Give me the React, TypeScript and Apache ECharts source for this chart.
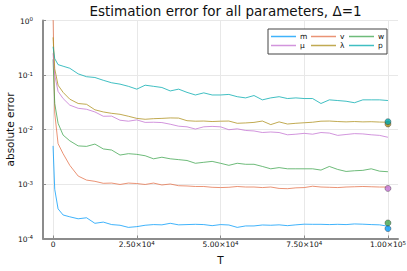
import React, { useEffect, useRef } from "react";
import * as echarts from "echarts";

const T = [0, 500, 1500, 3000, 5000, 7500, 10000, 12500, 15000, 17500, 20000, 22500, 25000, 27500, 30000, 32500, 35000, 37500, 40000, 42500, 45000, 47500, 50000, 52500, 55000, 57500, 60000, 62500, 65000, 67500, 70000, 72500, 75000, 77500, 80000, 82500, 85000, 87500, 90000, 92500, 95000, 97500, 100000];

const errM = [0.005, 0.0008, 0.00035, 0.00027, 0.00025, 0.00023, 0.00024, 0.00019, 0.0002, 0.00018, 0.000175, 0.00016, 0.000165, 0.000175, 0.00018, 0.000178, 0.00019, 0.000178, 0.00018, 0.000182, 0.00018, 0.000172, 0.00018, 0.000177, 0.00016, 0.00017, 0.00017, 0.000177, 0.000175, 0.000178, 0.000172, 0.000178, 0.000183, 0.000182, 0.000182, 0.00018, 0.000182, 0.00018, 0.000185, 0.000183, 0.00018, 0.000178, 0.000168];
const errV = [1.3, 0.02, 0.0055, 0.0036, 0.0022, 0.0014, 0.00118, 0.00112, 0.00103, 0.00104, 0.00098, 0.00104, 0.00102, 0.00098, 0.00104, 0.00096, 0.001, 0.00093, 0.00092, 0.0009, 0.0009, 0.00087, 0.00086, 0.00087, 0.0009, 0.00088, 0.00088, 0.00086, 0.00088, 0.00083, 0.00082, 0.00085, 0.00086, 0.00091, 0.00088, 0.00087, 0.00086, 0.00088, 0.00089, 0.0009, 0.00089, 0.00088, 0.00088];
const errW = [0.194, 0.03, 0.013, 0.0079, 0.0062, 0.005, 0.0049, 0.0054, 0.0044, 0.0042, 0.0034, 0.0036, 0.0035, 0.0033, 0.0029, 0.0031, 0.0029, 0.0028, 0.0027, 0.0024, 0.0025, 0.0026, 0.0024, 0.0022, 0.0024, 0.0023, 0.0023, 0.0021, 0.0019, 0.002, 0.0019, 0.0019, 0.0019, 0.0019, 0.0018, 0.0021, 0.00185, 0.0017, 0.00175, 0.00178, 0.0019, 0.00172, 0.00168];
const errMu = [0.25, 0.1, 0.05, 0.037, 0.028, 0.0245, 0.0235, 0.021, 0.0175, 0.0176, 0.0148, 0.0142, 0.015, 0.0135, 0.0136, 0.0134, 0.0125, 0.0115, 0.0112, 0.0102, 0.0112, 0.0114, 0.0112, 0.0099, 0.0103, 0.0096, 0.0094, 0.0088, 0.009, 0.0088, 0.008, 0.0082, 0.0085, 0.0082, 0.0088, 0.0086, 0.0078, 0.0081, 0.0084, 0.0083, 0.008, 0.0078, 0.0072];
const errLambda = [0.49, 0.13, 0.065, 0.048, 0.036, 0.03, 0.029, 0.023, 0.021, 0.0198, 0.019, 0.0175, 0.016, 0.0154, 0.0158, 0.016, 0.0163, 0.0162, 0.0145, 0.0142, 0.0143, 0.014, 0.0142, 0.0143, 0.013, 0.0132, 0.0135, 0.0143, 0.0123, 0.0138, 0.0126, 0.013, 0.0133, 0.0136, 0.0142, 0.0143, 0.014, 0.0138, 0.014, 0.0138, 0.0139, 0.0137, 0.0136];
const errP = [0.33, 0.2, 0.155, 0.145, 0.133, 0.105, 0.093, 0.09, 0.08, 0.072, 0.068, 0.062, 0.055, 0.065, 0.062, 0.059, 0.051, 0.055, 0.048, 0.043, 0.047, 0.043, 0.043, 0.044, 0.04, 0.038, 0.042, 0.035, 0.038, 0.04, 0.037, 0.038, 0.037, 0.037, 0.03, 0.035, 0.034, 0.033, 0.031, 0.035, 0.035, 0.035, 0.034];

const names = ["m", "v", "w", "μ", "λ", "p"];
const lineColors = [
  "rgba(0,154,250,0.75)",
  "rgba(227,111,71,0.75)",
  "rgba(62,164,78,0.75)",
  "rgba(195,113,210,0.75)",
  "rgba(172,142,24,0.75)",
  "rgba(0,170,174,0.75)",
];

// final-point markers
const markerT = [100000, 100000, 100000, 100000, 100000];
const markerValues = [0.0126, 0.0139, 0.00083, 0.000152, 0.000193];
const markerColors = ["#AC8E18", "#00AAAE", "#C371D2", "#009AFA", "#3EA44E"];

const xTicks = [0, 25000, 50000, 75000, 100000];

const FONT = "DejaVu Sans";
const LEGEND_ICON = "path://M0,0L0.01,0L0,0.01ZM0,3.75H25V5.25H0ZM25,9L24.99,9L25,8.99Z";

export default function App() {
  const ref = useRef<HTMLDivElement>(null);
  useEffect(() => {
    if (!ref.current) return;
    const chart = echarts.init(ref.current, null, { renderer: "svg" });
    const all = [errM, errV, errW, errMu, errLambda, errP];
    const lineSeries = all.map((vals, i) => ({
      name: names[i],
      type: "line",
      data: T.map((t, j) => [t, vals[j]]),
      showSymbol: false,
      symbol: "none",
      color: lineColors[i],
      lineStyle: { width: 1, color: lineColors[i] },
      z: 2,
    }));
    const markerSeries = markerValues.map((v, i) => ({
      name: "marker" + i,
      type: "scatter",
      data: [[markerT[i], v]],
      symbolSize: 6,
      itemStyle: { color: markerColors[i], borderColor: "#333", borderWidth: 0.5 },
      z: 3,
    }));
    const supRich = {
      b: { fontFamily: FONT, fontSize: 7.5, color: "#111", lineHeight: 9, padding: [3, 0, 0, 0], verticalAlign: "bottom" },
      s: { fontFamily: FONT, fontSize: 5.5, color: "#111", lineHeight: 7, verticalAlign: "top" },
    };
    const legendCommon = {
      orient: "vertical",
      align: "left",
      top: 32,
      itemWidth: 25,
      itemHeight: 9,
      itemGap: 0,
      icon: LEGEND_ICON,
      padding: 0,
      textStyle: { fontFamily: FONT, fontSize: 7.5, color: "#111", lineHeight: 9, padding: [0, 0, 0, -1] },
      selectedMode: false,
      z: 5,
    };
    chart.setOption({
      animation: false,
      backgroundColor: "#fff",
      title: {
        text: "Estimation error for all parameters, Δ=1",
        left: 220.5,
        textAlign: "center",
        top: -1,
        textStyle: { fontFamily: FONT, fontSize: 13.5, fontWeight: "normal", color: "#111" },
      },
      grid: { left: 43, right: 9, top: 20.5, bottom: 32.5, containLabel: false, outerBoundsMode: "none" },
      legend: [
        { ...legendCommon, left: 271, data: ["m", "μ"] },
        { ...legendCommon, left: 311, data: ["v", "λ"] },
        { ...legendCommon, left: 349, data: ["w", "p"] },
      ],
      graphic: [
        {
          type: "rect",
          shape: { x: 268, y: 29, width: 119, height: 25 },
          style: { fill: "#fff", stroke: "#444", lineWidth: 1 },
          z: 4,
        },
      ],
      xAxis: {
        type: "value",
        min: -3000,
        max: 103000,
        name: "T",
        nameLocation: "middle",
        nameGap: 16,
        nameMoveOverlap: false,
        nameTextStyle: { fontFamily: FONT, fontSize: 10.5, color: "#111" },
        axisLine: { show: true, onZero: false, lineStyle: { color: "#8c8c8c", width: 2 } },
        axisTick: { show: true, inside: true, length: 3, customValues: xTicks, lineStyle: { color: "#8c8c8c" } },
        axisLabel: {
          customValues: xTicks,
          margin: 1,
          hideOverlap: false,
          formatter: (v: number) => {
            if (v === 0) return "{b|0}";
            const e = Math.floor(Math.log10(v) + 1e-9);
            const mant = (v / Math.pow(10, e)).toFixed(2);
            return `{b|${mant}×10}{s|${e}}`;
          },
          rich: supRich,
        },
        splitLine: { show: true, lineStyle: { color: "#e8e8e8", width: 1 } },
      },
      yAxis: {
        type: "log",
        logBase: 10,
        min: 0.0001,
        max: 1,
        name: "absolute error",
        nameLocation: "middle",
        nameGap: 28,
        nameMoveOverlap: false,
        nameTextStyle: { fontFamily: FONT, fontSize: 10.5, lineHeight: 11, color: "#111" },
        axisLine: { show: true, onZero: false, lineStyle: { color: "#8c8c8c", width: 2 } },
        axisTick: { show: true, inside: true, length: 3, lineStyle: { color: "#8c8c8c" } },
        axisLabel: {
          margin: 10,
          formatter: (v: number) => `{b|10}{s|${Math.round(Math.log10(v))}}`,
          rich: supRich,
        },
        splitLine: { show: true, lineStyle: { color: "#e8e8e8", width: 1 } },
        minorTick: { show: false },
      },
      series: [...lineSeries, ...markerSeries],
    });
    return () => chart.dispose();
  }, []);
  return (
    <div
      ref={ref}
      style={{ position: "fixed", left: 0, top: 0, width: 407, height: 271, background: "#fff" }}
    />
  );
}
